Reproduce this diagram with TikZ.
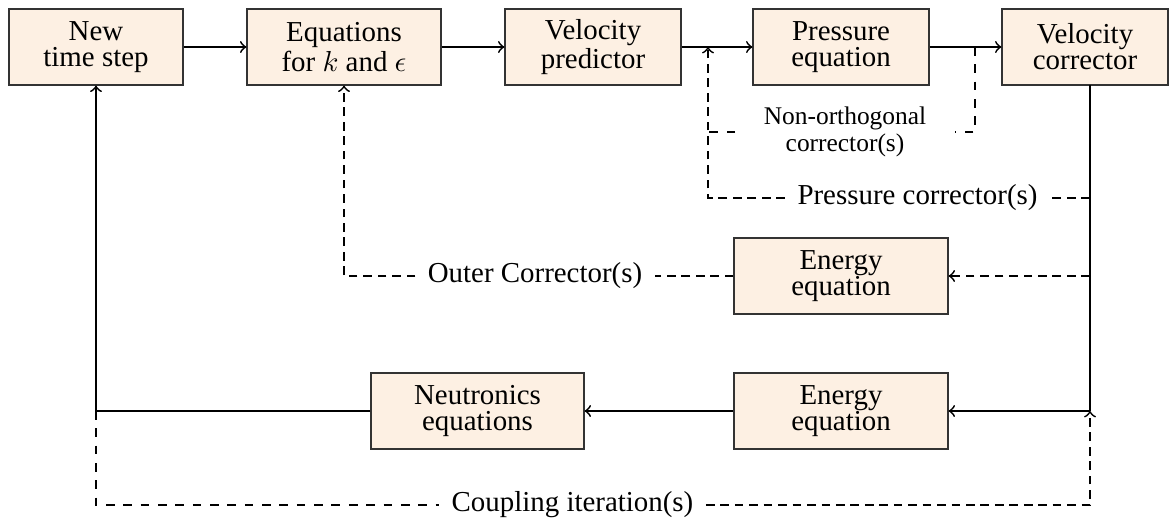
\documentclass[tikz,border=0pt]{standalone}
\usepackage{fontspec}
\setmainfont{Liberation Serif}
\definecolor{boxfill}{RGB}{253,240,227}
\begin{document}
\begin{tikzpicture}[x=0.346pt,y=-0.346pt,
  procbox/.style={draw=black!80, line width=0.4pt, fill=boxfill, inner sep=0pt,
    minimum height=76*0.346pt, align=center,
    font=\fontsize{10pt}{9pt}\selectfont},
  flow/.style={line width=0.6pt},
  fb/.style={line width=0.6pt, densely dashed},
  fbthin/.style={line width=0.4pt, dashed},
  fbthind/.style={line width=0.4pt, densely dashed},
  lbl/.style={inner ysep=0pt, inner xsep=12*0.346pt,
    font=\fontsize{10pt}{12pt}\selectfont},
  ]
\useasboundingbox (0,0) rectangle (1169,521);
\clip (0,0) rectangle (1169,521);

% process boxes
\node[procbox, minimum width=174*0.346pt] (nts) at (96,47) {New\\time step};
\node[procbox, minimum width=194*0.346pt] (keq) at (344,47) {Equations\\for $k$ and $\epsilon$};
\node[procbox, minimum width=176*0.346pt] (vp) at (593,47) {Velocity\\predictor};
\node[procbox, minimum width=176*0.346pt] (pe) at (841,47) {Pressure\\equation};
\node[procbox, minimum width=166*0.346pt] (vc) at (1085,47) {Velocity\\corrector};
\node[procbox, minimum width=214*0.346pt] (eu) at (841,276) {Energy\\equation};
\node[procbox, minimum width=214*0.346pt] (el) at (841,411) {Energy\\equation};
\node[procbox, minimum width=213*0.346pt] (ne) at (477.5,411) {Neutronics\\equations};

% loop labels
\node[lbl] (ocl) at (535,276) {Outer Corrector(s)};
\node[lbl] (pcl) at (917.5,198) {Pressure corrector(s)};
\node[lbl] (cil) at (572.5,505) {Coupling iteration(s)};
\node[lbl, inner xsep=28*0.346pt, align=center,
  font=\fontsize{8.8pt}{9.3pt}\selectfont] (nol) at (845,132) {Non-orthogonal\\corrector(s)};

% junction points
\coordinate (vcb) at (1090,85);
\coordinate (pt) at (708,47);
\coordinate (nt) at (975,47);
\coordinate (j1) at (vcb |- el.east);

% main flow
\draw[flow,->] (nts) -- (keq);
\draw[flow,->] (keq) -- (vp);
\draw[flow,->] (vp) -- (pe);
\draw[flow,->] (pe) -- (vc);
\draw[line width=0.4pt] (vcb) -- (j1);
\draw[flow,->] (j1) -- (el);
\draw[flow,->] (el) -- (ne);
\draw[flow,->] (ne.west) -| (nts.south);

% outer corrector loop
\draw[fb,->] (vcb |- eu.east) -- (eu.east);
\draw[fbthind] (eu.west) -- (ocl.east);
\draw[fb,->] (ocl.west) -| (keq.south);

% pressure corrector loop
\draw[fbthind] (vcb |- pcl.east) -- (pcl.east);
\draw[fb,->] (pcl.west) -| (pt);

% non-orthogonal corrector loop
\draw[fbthin] (nt) |- (nol.east);
\draw[fbthin] (nol.west) -- (nol.west -| pt);

% coupling iteration loop
\draw[fbthin] (nts.south |- ne.west) |- (cil.west);
\draw[fb,->] (cil.east) -| (j1);
\end{tikzpicture}
\end{document}
